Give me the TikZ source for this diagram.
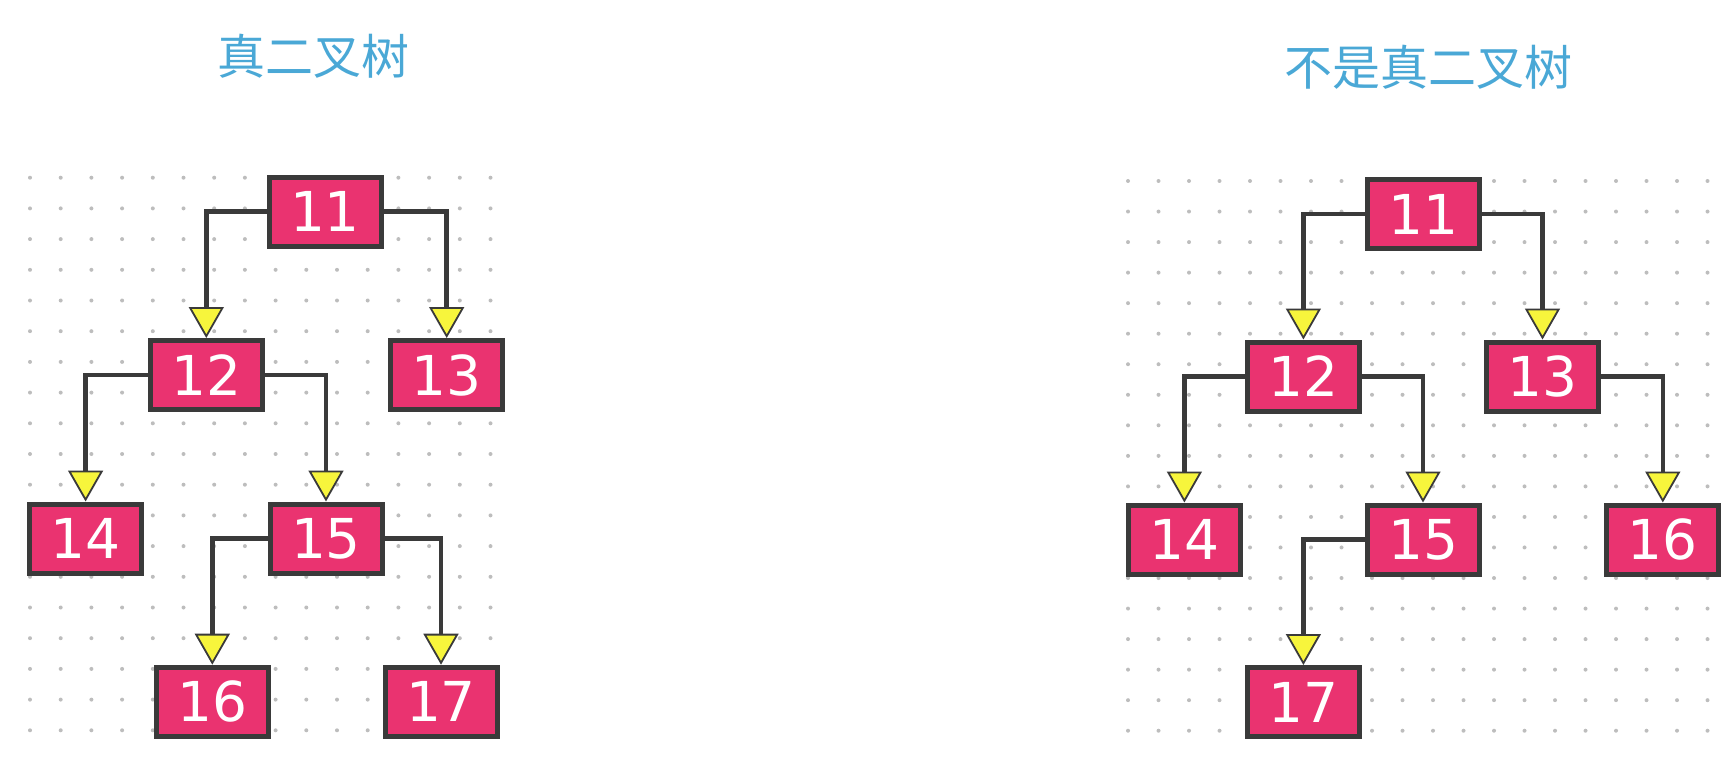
\documentclass[tikz,border=0pt]{standalone}
\usepackage{fontspec}
\newfontfamily\cjkfont{Noto Sans CJK SC}
\newfontfamily\numfont{DejaVu Sans}
\usetikzlibrary{arrows.meta}
\definecolor{boxfill}{HTML}{EA3370}
\definecolor{boxline}{HTML}{3A3A3A}
\definecolor{tipfill}{HTML}{F7F53C}
\definecolor{titleblue}{HTML}{4AA8D6}
\definecolor{dotgray}{HTML}{BDBDBD}
\begin{document}
\begin{tikzpicture}[x=1pt,y=-1pt,
  tnode/.style={draw=boxline, line width=5pt, fill=boxfill, text=white,
    minimum width=112pt, minimum height=69pt, inner sep=0pt, outer sep=2.5pt,
    font=\numfont\fontsize{55}{55}\selectfont},
  conn/.style={draw=boxline, line width=4.5pt,
    -{Triangle[width=35pt,length=31pt,line width=1.8pt,fill=tipfill]}},
  titletext/.style={text=titleblue, inner sep=0pt, font=\cjkfont\fontsize{48}{48}\selectfont},
  griddot/.style={fill=dotgray}]
\useasboundingbox (0,0) rectangle (1732,770);
% dot grids
\foreach \i in {0,...,15}{
  \foreach \j in {0,...,18}{
    \fill[griddot] (30+30.7*\i,177.7+30.7*\j) circle (2pt);
  }
}
\foreach \i in {0,...,19}{
  \foreach \j in {0,...,18}{
    \fill[griddot] (1128+30.5*\i,181+30.54*\j) circle (2pt);
  }
}
% titles
\node[titletext] (tL) at (313,56) {真二叉树};
\node[titletext] (tR) at (1428,67.5) {不是真二叉树};
% left tree
\node[tnode] (L11) at (325,211.7) {11};
\node[tnode] (L12) at (206.3,375) {12};
\node[tnode] (L13) at (446.7,375) {13};
\node[tnode] (L14) at (85.6,538.5) {14};
\node[tnode] (L15) at (326,538.5) {15};
\node[tnode] (L16) at (212.3,701.7) {16};
\node[tnode] (L17) at (441,701.7) {17};
\draw[conn] (L11.west) -| (L12.north);
\draw[conn] (L11.east) -| (L13.north);
\draw[conn] (L12.west) -| (L14.north);
\draw[conn] (L12.east) -| (L15.north);
\draw[conn] (L15.west) -| (L16.north);
\draw[conn] (L15.east) -| (L17.north);
% right tree
\node[tnode] (R11) at (1423,214) {11};
\node[tnode] (R12) at (1303.4,376.5) {12};
\node[tnode] (R13) at (1542.5,376.5) {13};
\node[tnode] (R14) at (1184.4,539.5) {14};
\node[tnode] (R15) at (1423,539.5) {15};
\node[tnode] (R16) at (1662.8,539.5) {16};
\node[tnode] (R17) at (1303.4,702) {17};
\draw[conn] (R11.west) -| (R12.north);
\draw[conn] (R11.east) -| (R13.north);
\draw[conn] (R12.west) -| (R14.north);
\draw[conn] (R12.east) -| (R15.north);
\draw[conn] (R13.east) -| (R16.north);
\draw[conn] (R15.west) -| (R17.north);
\end{tikzpicture}
\end{document}
